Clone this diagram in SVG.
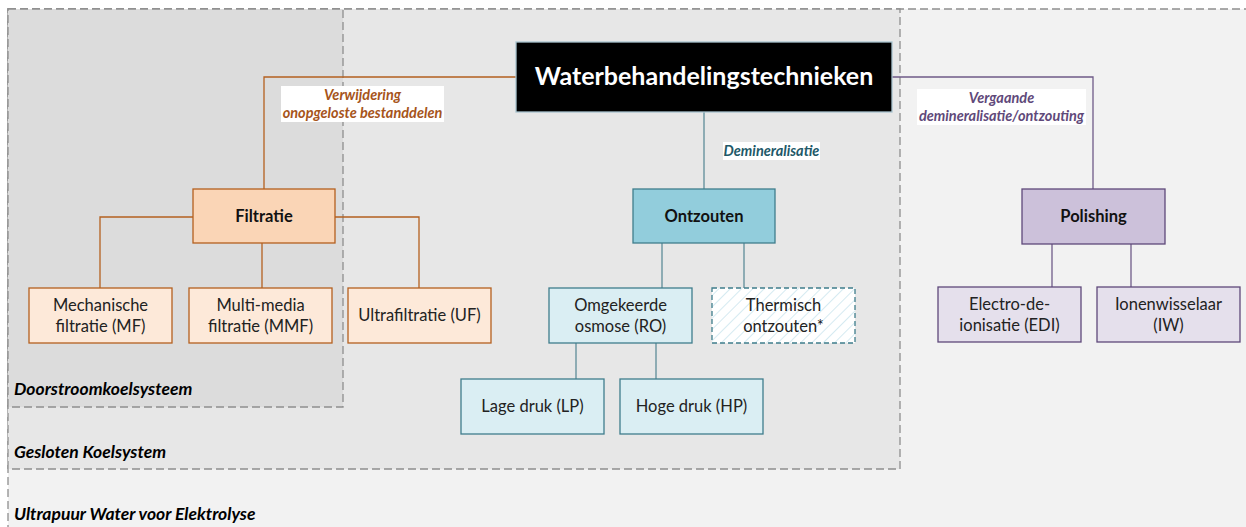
<svg xmlns="http://www.w3.org/2000/svg" width="1246" height="527" viewBox="0 0 1246 527">
<style>
text{font-family:Lato,"Open Sans","Liberation Sans",sans-serif;}
.zone{stroke:#8e8e8e;stroke-width:1.3;stroke-dasharray:8,4;}
.zl{font-size:17.5px;font-weight:bold;font-style:italic;fill:#000;}
.nt{font-size:16.5px;fill:#222;text-anchor:middle;}
.bt{font-size:16.5px;font-weight:bold;fill:#111;text-anchor:middle;}
.lbl{font-size:14.5px;font-weight:bold;font-style:italic;text-anchor:middle;}
.or{fill:#fde9d9;stroke:#b4601f;stroke-width:1.3;}
.orH{fill:#fad5b6;stroke:#b4601f;stroke-width:1.3;}
.tl{fill:#daeef3;stroke:#3f7d8c;stroke-width:1.3;}
.tlH{fill:#92cddc;stroke:#3f7d8c;stroke-width:1.3;}
.pu{fill:#e5e0ec;stroke:#5f497a;stroke-width:1.3;}
.puH{fill:#ccc1da;stroke:#5f497a;stroke-width:1.3;}
.co{fill:none;stroke-width:1.3;}
</style>
<defs>
<pattern id="hatch" width="8" height="8" patternUnits="userSpaceOnUse" patternTransform="rotate(45)">
<rect width="8" height="8" fill="#ffffff"/>
<line x1="0" y1="0" x2="0" y2="8" stroke="#d5eaf1" stroke-width="2"/>
</pattern>
</defs>
<rect width="1246" height="527" fill="#ffffff"/>
<g id="zone-ultrapuur">
<rect class="zone" x="8" y="9" width="1250" height="530" fill="#f2f2f2"/>
<text class="zl" x="14" y="520">Ultrapuur Water voor Elektrolyse</text>
</g>
<g id="zone-gesloten">
<rect class="zone" x="8" y="9" width="892" height="460" fill="#e7e7e7"/>
<text class="zl" x="14" y="458">Gesloten Koelsystem</text>
</g>
<g id="zone-doorstroom">
<rect class="zone" x="8" y="9" width="335" height="398" fill="#dcdcdc"/>
<text class="zl" x="14" y="395">Doorstroomkoelsysteem</text>
</g>
<g id="connectors">
<polyline class="co" stroke="#b4601f" points="516,77 264,77 264,189"/>
<polyline class="co" stroke="#b4601f" points="193,217 100,217 100,288"/>
<polyline class="co" stroke="#b4601f" points="335,217 419,217 419,288"/>
<line class="co" stroke="#b4601f" x1="262" y1="243" x2="262" y2="288"/>
<line class="co" stroke="#5e8c98" x1="704" y1="112" x2="704" y2="189"/>
<line class="co" stroke="#5e8c98" x1="662" y1="243" x2="662" y2="288"/>
<line class="co" stroke="#5e8c98" x1="744" y1="243" x2="744" y2="288"/>
<line class="co" stroke="#5e8c98" x1="576" y1="343" x2="576" y2="379"/>
<line class="co" stroke="#5e8c98" x1="656" y1="343" x2="656" y2="379"/>
<polyline class="co" stroke="#6f5b88" points="892,77 1093,77 1093,189"/>
<line class="co" stroke="#6f5b88" x1="1052" y1="244" x2="1052" y2="287"/>
<line class="co" stroke="#6f5b88" x1="1131" y1="244" x2="1131" y2="287"/>
<g id="label-verwijdering">
<rect x="281" y="86" width="163" height="36" fill="#ffffff"/>
<text class="lbl" fill="#a6541a" x="362.5" y="100">Verwijdering</text>
<text class="lbl" fill="#a6541a" x="362.5" y="118">onopgeloste bestanddelen</text>
</g>
<g id="label-demineralisatie">
<rect x="723" y="142" width="97" height="18" fill="#ffffff"/>
<text class="lbl" fill="#215868" x="771.5" y="156">Demineralisatie</text>
</g>
<g id="label-vergaande">
<rect x="917" y="89" width="169" height="36" fill="#ffffff"/>
<text class="lbl" fill="#5f497a" x="1001.5" y="103">Vergaande</text>
<text class="lbl" fill="#5f497a" x="1001.5" y="121">demineralisatie/ontzouting</text>
</g>
</g>
<g id="node-main">
<rect x="516" y="42" width="376" height="70" fill="#000000" stroke="#a9c4cf" stroke-width="1.3"/>
<text x="704" y="85" font-size="25px" font-weight="bold" fill="#ffffff" text-anchor="middle">Waterbehandelingstechnieken</text>
</g>
<g id="node-filtratie">
<rect class="orH" x="193" y="189" width="142" height="54"/>
<text class="bt" x="264" y="222">Filtratie</text>
</g>
<g id="node-mf">
<rect class="or" x="29" y="288" width="143" height="55"/>
<text class="nt" x="100.5" y="311">Mechanische</text>
<text class="nt" x="100.5" y="332">filtratie (MF)</text>
</g>
<g id="node-mmf">
<rect class="or" x="189" y="288" width="143" height="55"/>
<text class="nt" x="260.5" y="311">Multi-media</text>
<text class="nt" x="260.5" y="332">filtratie (MMF)</text>
</g>
<g id="node-uf">
<rect class="or" x="348" y="288" width="143" height="55"/>
<text class="nt" x="419.5" y="321">Ultrafiltratie (UF)</text>
</g>
<g id="node-ontzouten">
<rect class="tlH" x="633" y="189" width="142" height="54"/>
<text class="bt" x="704" y="222">Ontzouten</text>
</g>
<g id="node-ro">
<rect class="tl" x="549" y="288" width="143" height="55"/>
<text class="nt" x="620.5" y="311">Omgekeerde</text>
<text class="nt" x="620.5" y="332">osmose (RO)</text>
</g>
<g id="node-thermisch">
<rect x="712" y="288" width="143" height="55" fill="url(#hatch)" stroke="#3f7d8c" stroke-width="1.3" stroke-dasharray="5,3"/>
<text class="nt" x="783.5" y="311">Thermisch</text>
<text class="nt" x="783.5" y="332">ontzouten*</text>
</g>
<g id="node-lp">
<rect class="tl" x="461" y="379" width="143" height="55"/>
<text class="nt" x="532.5" y="412">Lage druk (LP)</text>
</g>
<g id="node-hp">
<rect class="tl" x="620" y="379" width="143" height="55"/>
<text class="nt" x="691.5" y="412">Hoge druk (HP)</text>
</g>
<g id="node-polishing">
<rect class="puH" x="1022" y="189" width="143" height="55"/>
<text class="bt" x="1093.5" y="222">Polishing</text>
</g>
<g id="node-edi">
<rect class="pu" x="938" y="287" width="143" height="55"/>
<text class="nt" x="1009.5" y="310">Electro-de-</text>
<text class="nt" x="1009.5" y="331">ionisatie (EDI)</text>
</g>
<g id="node-iw">
<rect class="pu" x="1097" y="287" width="143" height="55"/>
<text class="nt" x="1168.5" y="310">Ionenwisselaar</text>
<text class="nt" x="1168.5" y="331">(IW)</text>
</g>
</svg>
